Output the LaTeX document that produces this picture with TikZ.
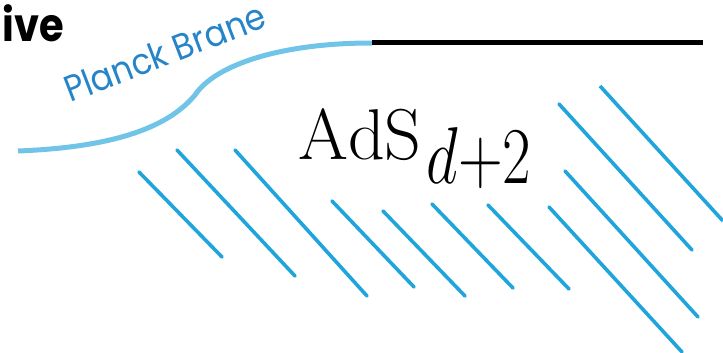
\documentclass[tikz,border=0pt]{standalone}
\usepackage{fix-cm}
\usepackage{graphicx}
\usepackage{fontspec}
\newfontfamily\gothic{Poppins}
\definecolor{branecol}{RGB}{112,196,232}
\definecolor{hatchcol}{RGB}{32,164,220}
\definecolor{labelcol}{RGB}{38,132,200}

\begin{document}
\begin{tikzpicture}[x=1pt, y=-1pt,
  hatch/.style={hatchcol, line width=3.6pt, line cap=round}]
\useasboundingbox (0,0) rectangle (723,353);

% Titre
\node[anchor=base west, inner sep=0pt, yscale=1.15, font=\gothic\bfseries\fontsize{40}{40}\selectfont] (title) at (2,42) {ive};

% Bords
\draw[branecol, line width=5pt] (18,151) .. controls (120,147) and (170,125) .. (195,95)
  .. controls (215,65) and (280,43) .. (372,43);
\draw[black, line width=5pt] (372,43) -- (703,43);
\node[anchor=base west, inner sep=0pt, rotate=21, yscale=1.1, text=labelcol, font=\gothic\fontsize{33}{33}\selectfont] (brane) at (70,103) {Planck Brane};

% Bulk
\node[anchor=base west, inner sep=0pt, font=\fontsize{72}{72}\selectfont] (ads) at (298,159)
  {$\mathrm{AdS}$\kern5pt\raisebox{-24pt}{\scalebox{1}[1.3]{\fontsize{62}{62}\selectfont$d{+}2$}}};

% Hachures
\foreach \xa/\ya/\xb/\yb in {139/172/222/257, 177/150/295/276, 235/150/367/296,
  332/201/414/287, 383/211/465/296, 432/204/513/288, 488/205/569/289,
  549/207/682/352, 565/171/698/317, 559/104/692/250}
  \draw[hatch] (\xa,\ya) -- (\xb,\yb);
\draw[hatch, line cap=butt] (600,86) -- (723,221);

\end{tikzpicture}
\end{document}
